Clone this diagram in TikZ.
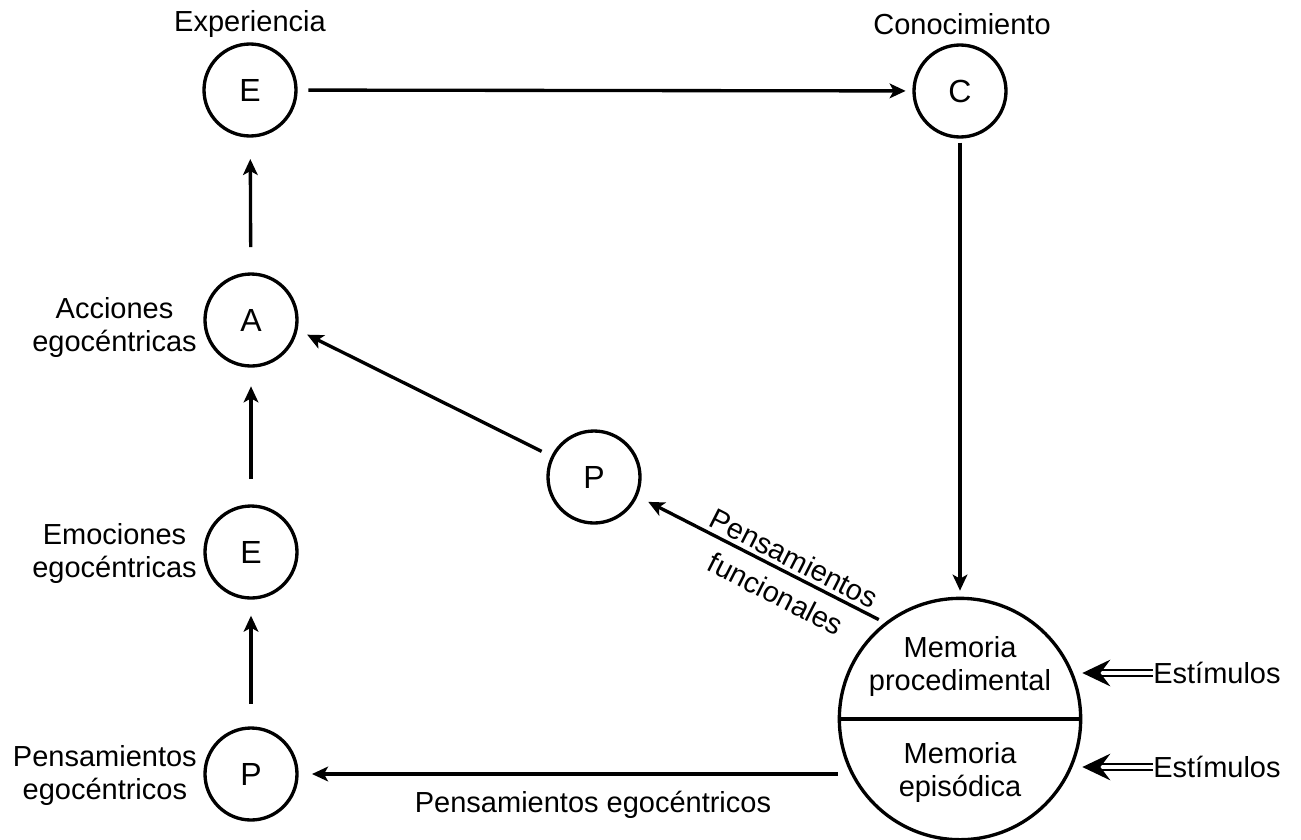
\documentclass[tikz,border=0pt]{standalone}
\usepackage{fontspec}
\setmainfont{Liberation Sans}
\usetikzlibrary{arrows.meta}
\begin{document}
\begin{tikzpicture}[x=0.75pt,y=-0.75pt,
  every node/.style={font=\fontsize{21.75}{24.75}\selectfont},
  circ/.style={draw, circle, line width=2.5pt, minimum size=69pt, inner sep=0pt, font=\fontsize{24}{28}\selectfont},
  arr/.style={line width=2.5pt, -{Stealth[length=12pt,width=11pt,inset=3pt]}},
  lbl/.style={align=center, inner sep=0pt},
  dbl/.style={double, double distance=3.2pt, line width=1.6pt, -{Stealth[length=21pt,width=20pt,inset=7.5pt]}}
]
\useasboundingbox (0,0) rectangle (1301,839);
% circles
\node[circ] (E1) at (250,90) {E};
\node[circ] (C) at (960,91) {C};
\node[circ] (A) at (251,320) {A};
\node[circ] (E2) at (251,552) {E};
\node[circ] (P1) at (251,774) {P};
\node[circ] (P2) at (594,477) {P};
\node[draw, circle, line width=2.5pt, minimum size=181pt, inner sep=0pt] (M) at (960,719) {};
\draw[line width=2.5pt] (M.west) -- (M.east);
\node[lbl] (Mp) at (960,666) {Memoria\\procedimental};
\node[lbl] (Me) at (960,772) {Memoria\\episódica};
% labels
\node[lbl] (tE) at (250,24) {Experiencia};
\node[lbl] (tC) at (962,24) {Conocimiento};
\node[lbl, anchor=east] (tA) at (197,327) {Acciones\\egocéntricas};
\node[lbl, anchor=east] (tEm) at (197,553) {Emociones\\egocéntricas};
\node[lbl, anchor=east] (tP) at (197,775) {Pensamientos\\egocéntricos};
\node[lbl] (tPe) at (593,805) {Pensamientos egocéntricos};
\node[lbl, rotate=-27, font=\fontsize{21.75}{30}\selectfont] (tPf) at (785,576) {Pensamientos\\funcionales};
\node[lbl, anchor=west] (S1) at (1153,673) {Estímulos};
\node[lbl, anchor=west] (S2) at (1153,767) {Estímulos};
% connectors
\draw[arr, shorten <=8pt, shorten >=5pt] (E1) -- (C);
\draw[arr, shorten <=3pt, shorten >=4.5pt] (C) -- (M);
\draw[arr, shorten <=19pt, shorten >=16pt] (A) -- (E1);
\draw[arr, shorten <=19pt, shorten >=14pt] (E2) -- (A);
\draw[arr, shorten <=17pt, shorten >=12pt] (P1) -- (E2);
\draw[arr, shorten <=8pt, shorten >=8pt] (P2.154) -- (A.-12);
\draw[arr, shorten <=5pt, shorten >=9pt] (M.128.7) -- (P2.-24.8);
\draw[arr, shorten >=10pt] (M.west |- P1.east) -- (P1.east);
\draw[dbl] (S1.west) -- (S1.west -| M.east);
\draw[dbl] (S2.west) -- (S2.west -| M.east);
\end{tikzpicture}
\end{document}
